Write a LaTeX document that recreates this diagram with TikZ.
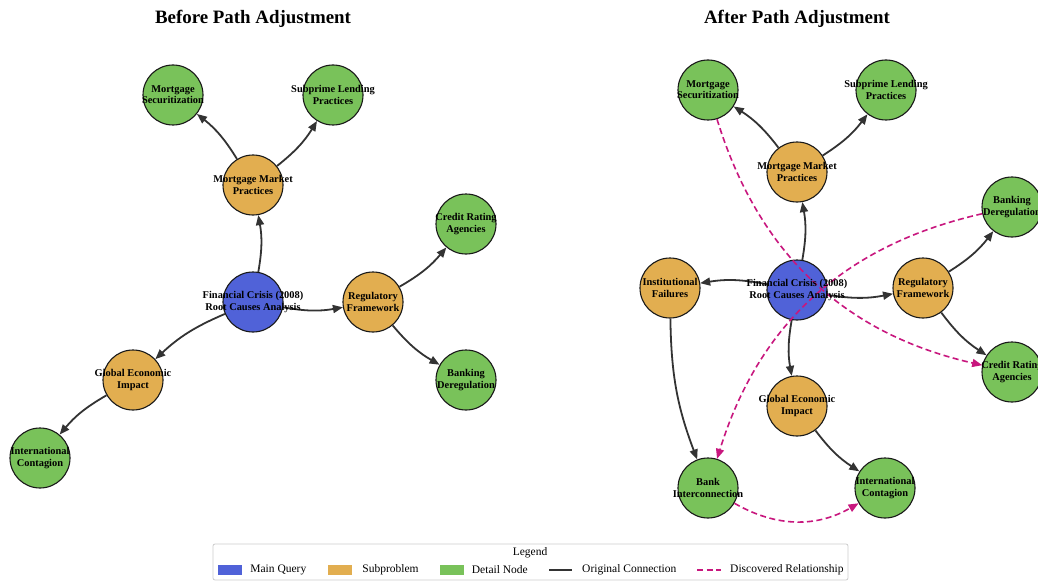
\documentclass[tikz,border=0pt]{standalone}
\usepackage{fontspec}
\setmainfont{Liberation Serif}
\usetikzlibrary{calc}
\usetikzlibrary{positioning}
\usetikzlibrary{arrows.meta}
\definecolor{mainblue}{HTML}{5062D8}
\definecolor{subgold}{HTML}{E2AE50}
\definecolor{detgreen}{HTML}{79C25A}
\definecolor{edgegray}{HTML}{333333}
\definecolor{discpink}{HTML}{C8177E}
\tikzstyle{cnode} = [draw=black!90, line width=1.1pt, circle, minimum size=60pt, inner sep=0pt]
\tikzstyle{mainnode} = [cnode, fill=mainblue]
\tikzstyle{subnode} = [cnode, fill=subgold]
\tikzstyle{detnode} = [cnode, fill=detgreen]
\tikzstyle{ntext} = [font=\fontsize{10.4}{11.2}\selectfont\bfseries, align=center, inner sep=0pt]
\tikzstyle{ptitle} = [font=\fontsize{18.9}{22}\selectfont\bfseries]
\tikzstyle{legtext} = [font=\fontsize{11.5}{13}\selectfont, anchor=west, inner sep=0pt]
\tikzstyle{legpatch} = [minimum width=24pt, minimum height=10pt, inner sep=0pt]
\tikzstyle{orig} = [draw=edgegray, line width=1.8pt, -{Triangle[length=10pt,width=8pt]}, bend right=10]
\tikzstyle{disc} = [draw=discpink, line width=1.6pt, dash pattern=on 6pt off 3.5pt, -{Triangle[length=10pt,width=8pt]}, bend right=30]

\begin{document}
\begin{tikzpicture}[x=1pt, y=-1pt]
    \useasboundingbox[fill=white] (0,0) rectangle (1038,583);

    % before
    \node[ptitle] (bef_title) at (253,19) {Before Path Adjustment};
    \node[mainnode] (bef_fc) at (253,302) {};
    \node[subnode] (bef_mmp) at (253,185) {};
    \node[subnode] (bef_rf) at (373,302) {};
    \node[subnode] (bef_gei) at (133,380) {};
    \node[detnode] (bef_ms) at (173,95) {};
    \node[detnode] (bef_slp) at (333,95) {};
    \node[detnode] (bef_cra) at (466,224) {};
    \node[detnode] (bef_bd) at (466,380) {};
    \node[detnode] (bef_ic) at (40,458) {};
    \draw[orig] (bef_fc) to (bef_mmp);
    \draw[orig] (bef_fc) to (bef_rf);
    \draw[orig] (bef_fc) to (bef_gei);
    \draw[orig] (bef_mmp) to (bef_ms);
    \draw[orig] (bef_mmp) to (bef_slp);
    \draw[orig] (bef_rf) to (bef_cra);
    \draw[orig] (bef_rf) to (bef_bd);
    \draw[orig] (bef_gei) to (bef_ic);
    \node[ntext] (bef_fc_t) at (bef_fc) {Financial Crisis (2008)\\Root Causes Analysis};
    \node[ntext] (bef_mmp_t) at (bef_mmp) {Mortgage Market\\Practices};
    \node[ntext] (bef_rf_t) at (bef_rf) {Regulatory\\Framework};
    \node[ntext] (bef_gei_t) at (bef_gei) {Global Economic\\Impact};
    \node[ntext] (bef_ms_t) at (bef_ms) {Mortgage\\Securitization};
    \node[ntext] (bef_slp_t) at (bef_slp) {Subprime Lending\\Practices};
    \node[ntext] (bef_cra_t) at (bef_cra) {Credit Rating\\Agencies};
    \node[ntext] (bef_bd_t) at (bef_bd) {Banking\\Deregulation};
    \node[ntext] (bef_ic_t) at (bef_ic) {International\\Contagion};

    % after
    \node[ptitle] (aft_title) at (797,19) {After Path Adjustment};
    \node[mainnode] (aft_fc) at (797,290) {};
    \node[subnode] (aft_mmp) at (797,172) {};
    \node[subnode] (aft_if) at (670,288) {};
    \node[subnode] (aft_rf) at (923,288) {};
    \node[subnode] (aft_gei) at (797,406) {};
    \node[detnode] (aft_ms) at (708,90) {};
    \node[detnode] (aft_slp) at (886,90) {};
    \node[detnode] (aft_bd) at (1012,207) {};
    \node[detnode] (aft_cra) at (1012,372) {};
    \node[detnode] (aft_bi) at (708,488) {};
    \node[detnode] (aft_ic) at (885,488) {};
    \draw[orig] (aft_fc) to (aft_mmp);
    \draw[orig] (aft_fc) to (aft_if);
    \draw[orig] (aft_fc) to (aft_rf);
    \draw[orig] (aft_fc) to (aft_gei);
    \draw[orig] (aft_mmp) to (aft_ms);
    \draw[orig] (aft_mmp) to (aft_slp);
    \draw[orig] (aft_rf) to (aft_bd);
    \draw[orig] (aft_rf) to (aft_cra);
    \draw[orig] (aft_if) to (aft_bi);
    \draw[orig] (aft_gei) to (aft_ic);
    \draw[disc] (aft_ms) to (aft_cra);
    \draw[disc] (aft_bd) to (aft_bi);
    \draw[disc] (aft_bi) to (aft_ic);
    \node[ntext] (aft_fc_t) at (aft_fc) {Financial Crisis (2008)\\Root Causes Analysis};
    \node[ntext] (aft_mmp_t) at (aft_mmp) {Mortgage Market\\Practices};
    \node[ntext] (aft_if_t) at (aft_if) {Institutional\\Failures};
    \node[ntext] (aft_rf_t) at (aft_rf) {Regulatory\\Framework};
    \node[ntext] (aft_gei_t) at (aft_gei) {Global Economic\\Impact};
    \node[ntext] (aft_ms_t) at (aft_ms) {Mortgage\\Securitization};
    \node[ntext] (aft_slp_t) at (aft_slp) {Subprime Lending\\Practices};
    \node[ntext] (aft_bd_t) at (aft_bd) {Banking\\Deregulation};
    \node[ntext] (aft_cra_t) at (aft_cra) {Credit Rating\\Agencies};
    \node[ntext] (aft_bi_t) at (aft_bi) {Bank\\Interconnection};
    \node[ntext] (aft_ic_t) at (aft_ic) {International\\Contagion};

    % legend
    \node[draw=black!20, line width=0.8pt, rounded corners=2pt, minimum width=635pt, minimum height=36pt, inner sep=0pt] (leg_box) at (530.5,562) {};
    \node[font=\fontsize{11.5}{13}\selectfont, inner sep=0pt] (leg_title) at (530,553) {Legend};
    \node[legpatch, fill=mainblue] (leg_main) at (230,570) {};
    \node[legtext, right=8pt of leg_main] (leg_main_t) {Main Query};
    \node[legpatch, fill=subgold] (leg_sub) at (340,570) {};
    \node[legtext, right=10pt of leg_sub] (leg_sub_t) {Subproblem};
    \node[legpatch, fill=detgreen] (leg_det) at (451.5,570) {};
    \node[legtext, right=8pt of leg_det] (leg_det_t) {Detail Node};
    \coordinate (leg_orig_a) at (549,570);
    \coordinate (leg_orig_b) at (572,570);
    \draw[draw=edgegray, line width=1.8pt] (leg_orig_a) -- (leg_orig_b);
    \node[legtext] (leg_orig_t) at (582,570) {Original Connection};
    \coordinate (leg_disc_a) at (697,570);
    \coordinate (leg_disc_b) at (721,570);
    \draw[draw=discpink, line width=1.6pt, dash pattern=on 6pt off 3.5pt] (leg_disc_a) -- (leg_disc_b);
    \node[legtext] (leg_disc_t) at (730,570) {Discovered Relationship};
\end{tikzpicture}
\end{document}
